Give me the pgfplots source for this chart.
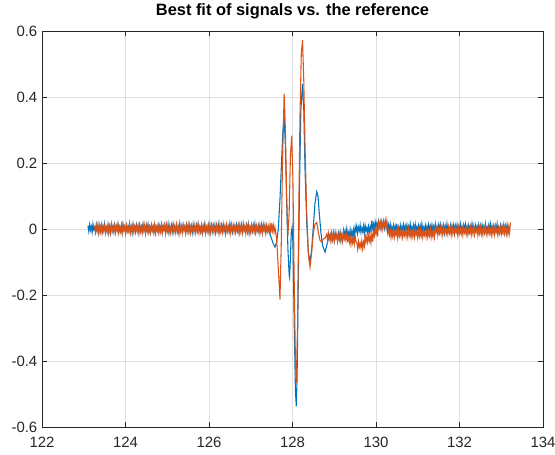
\documentclass[border=0pt]{standalone}
\usepackage{fontspec}
\setmainfont{Liberation Sans}
\usepackage{pgfplots}
\pgfplotsset{compat=1.18}

\definecolor{mblue}{RGB}{0,114,189}
\definecolor{morange}{RGB}{217,83,25}
\definecolor{axisgray}{RGB}{38,38,38}
\definecolor{gridgray}{RGB}{223,223,223}

\begin{document}
\begin{tikzpicture}
\begin{axis}[
    name=ax,
    scale only axis,
    width=375.75pt, height=297pt,
    xmin=122, xmax=134,
    ymin=-0.6, ymax=0.6,
    xtick={122,124,126,128,130,132,134},
    xticklabels={122,124,126,128,130,132,134},
    ytick={-0.6,-0.4,-0.2,0,0.2,0.4,0.6},
    yticklabels={-0.6,-0.4,-0.2,0,0.2,0.4,0.6},
    grid=major,
    major grid style={color=gridgray, line width=0.5pt},
    axis line style={color=axisgray, line width=0.6pt},
    tick style={color=axisgray, line width=0.6pt},
    major tick length=3.75pt,
    tick align=inside,
    ticklabel style={font=\fontsize{11.2}{13}\selectfont, text=axisgray},
    xticklabel style={yshift=-4pt},
    title={Best fit of signals vs. the reference},
    title style={font=\fontsize{12.3}{14}\selectfont\bfseries, at={(0.5,1)}, anchor=base, yshift=5.8pt},
]

% blue signal
\addplot[color=mblue, line width=0.8pt] coordinates {
(123.10,0.010)(123.12,-0.007)(123.14,0.013)(123.16,-0.004)(123.18,0.008)(123.20,-0.010)(123.22,0.015)(123.24,-0.002)(123.26,0.006)(123.28,-0.008)(123.30,0.012)(123.32,-0.005)
(123.34,0.014)(123.36,-0.011)(123.38,0.007)(123.40,-0.003)(123.42,0.011)(123.44,-0.009)(123.46,0.009)(123.48,-0.006)(123.50,0.016)(123.52,-0.004)(123.54,0.005)(123.56,-0.008)
(123.58,0.012)(123.60,-0.012)(123.62,0.008)(123.64,-0.005)(123.66,0.013)(123.68,-0.007)(123.70,0.010)(123.72,-0.004)(123.74,0.013)(123.76,-0.010)(123.78,0.008)(123.80,-0.002)
(123.82,0.015)(123.84,-0.008)(123.86,0.006)(123.88,-0.005)(123.90,0.012)(123.92,-0.011)(123.94,0.014)(123.96,-0.003)(123.98,0.007)(124.00,-0.009)(124.02,0.011)(124.04,-0.006)
(124.06,0.009)(124.08,-0.004)(124.10,0.016)(124.12,-0.008)(124.14,0.005)(124.16,-0.012)(124.18,0.012)(124.20,-0.005)(124.22,0.008)(124.24,-0.007)(124.26,0.013)(124.28,-0.004)
(124.30,0.010)(124.32,-0.010)(124.34,0.013)(124.36,-0.002)(124.38,0.008)(124.40,-0.008)(124.42,0.015)(124.44,-0.005)(124.46,0.006)(124.48,-0.011)(124.50,0.012)(124.52,-0.003)
(124.54,0.014)(124.56,-0.009)(124.58,0.007)(124.60,-0.006)(124.62,0.011)(124.64,-0.004)(124.66,0.009)(124.68,-0.008)(124.70,0.016)(124.72,-0.012)(124.74,0.005)(124.76,-0.005)
(124.78,0.012)(124.80,-0.007)(124.82,0.008)(124.84,-0.004)(124.86,0.013)(124.88,-0.010)(124.90,0.010)(124.92,-0.002)(124.94,0.013)(124.96,-0.008)(124.98,0.008)(125.00,-0.005)
(125.02,0.015)(125.04,-0.011)(125.06,0.006)(125.08,-0.003)(125.10,0.012)(125.12,-0.009)(125.14,0.014)(125.16,-0.006)(125.18,0.007)(125.20,-0.004)(125.22,0.011)(125.24,-0.008)
(125.26,0.009)(125.28,-0.012)(125.30,0.016)(125.32,-0.005)(125.34,0.005)(125.36,-0.007)(125.38,0.012)(125.40,-0.004)(125.42,0.008)(125.44,-0.010)(125.46,0.013)(125.48,-0.002)
(125.50,0.010)(125.52,-0.008)(125.54,0.013)(125.56,-0.005)(125.58,0.008)(125.60,-0.011)(125.62,0.015)(125.64,-0.003)(125.66,0.006)(125.68,-0.009)(125.70,0.012)(125.72,-0.006)
(125.74,0.014)(125.76,-0.004)(125.78,0.007)(125.80,-0.008)(125.82,0.011)(125.84,-0.012)(125.86,0.009)(125.88,-0.005)(125.90,0.016)(125.92,-0.007)(125.94,0.005)(125.96,-0.004)
(125.98,0.012)(126.00,-0.010)(126.02,0.008)(126.04,-0.002)(126.06,0.013)(126.08,-0.008)(126.10,0.010)(126.12,-0.005)(126.14,0.013)(126.16,-0.011)(126.18,0.008)(126.20,-0.003)
(126.22,0.015)(126.24,-0.009)(126.26,0.006)(126.28,-0.006)(126.30,0.012)(126.32,-0.004)(126.34,0.014)(126.36,-0.008)(126.38,0.007)(126.40,-0.012)(126.42,0.011)(126.44,-0.005)
(126.46,0.009)(126.48,-0.007)(126.50,0.016)(126.52,-0.004)(126.54,0.005)(126.56,-0.010)(126.58,0.012)(126.60,-0.002)(126.62,0.008)(126.64,-0.008)(126.66,0.013)(126.68,-0.005)
(126.70,0.010)(126.72,-0.011)(126.74,0.013)(126.76,-0.003)(126.78,0.008)(126.80,-0.009)(126.82,0.015)(126.84,-0.006)(126.86,0.006)(126.88,-0.004)(126.90,0.012)(126.92,-0.008)
(126.94,0.014)(126.96,-0.012)(126.98,0.007)(127.00,-0.005)(127.02,0.011)(127.04,-0.007)(127.06,0.009)(127.08,-0.004)(127.10,0.016)(127.12,-0.010)(127.14,0.005)(127.16,-0.002)
(127.18,0.012)(127.20,-0.008)(127.22,0.008)(127.24,-0.005)(127.26,0.013)(127.28,-0.011)(127.30,0.010)(127.32,-0.003)(127.34,0.013)(127.36,-0.009)(127.38,0.008)(127.40,-0.006)
(127.42,0.000)(127.46,-0.015)(127.50,-0.030)(127.54,-0.045)(127.58,-0.055)(127.62,-0.040)(127.66,0.000)(127.70,0.090)(127.74,0.210)(127.77,0.300)(127.80,0.334)
(127.83,0.250)(127.86,0.080)(127.89,-0.060)(127.92,-0.140)(127.93,-0.147)(127.95,-0.090)(127.97,-0.010)(127.99,0.005)(128.01,-0.040)(128.04,-0.280)(128.07,-0.490)
(128.09,-0.537)(128.11,-0.450)(128.14,-0.150)(128.17,0.150)(128.20,0.360)(128.24,0.440)(128.27,0.360)(128.30,0.180)(128.34,0.020)(128.38,-0.070)(128.42,-0.100)
(128.46,-0.060)(128.50,0.010)(128.54,0.080)(128.58,0.113)(128.61,0.100)(128.64,0.050)(128.68,-0.010)(128.72,-0.050)(128.78,-0.070)(128.82,-0.050)(128.86,-0.030)
(128.90,-0.015)(128.92,-0.032)(128.94,-0.012)(128.96,-0.029)(128.98,-0.017)(129.00,-0.035)(129.02,-0.010)(129.04,-0.027)(129.06,-0.019)(129.08,-0.033)(129.10,-0.013)(129.12,-0.030)
(129.14,-0.011)(129.16,-0.036)(129.18,-0.018)(129.20,-0.028)(129.22,-0.004)(129.24,-0.024)(129.26,-0.006)(129.28,-0.021)(129.30,0.001)(129.32,-0.019)(129.34,-0.010)(129.36,-0.023)
(129.38,-0.003)(129.40,-0.027)(129.42,-0.007)(129.44,-0.020)(129.46,-0.002)(129.48,-0.022)(129.50,0.007)(129.52,-0.007)(129.54,0.010)(129.56,-0.013)(129.58,0.005)(129.60,-0.005)
(129.62,0.012)(129.64,-0.011)(129.66,0.003)(129.68,-0.008)(129.70,0.009)(129.72,-0.014)(129.74,0.011)(129.76,-0.006)(129.78,0.004)(129.80,-0.012)(129.82,0.008)(129.84,-0.009)
(129.86,0.006)(129.88,-0.007)(129.90,0.026)(129.92,0.002)(129.94,0.015)(129.96,-0.002)(129.98,0.022)(130.00,0.005)(130.02,0.018)(130.04,0.003)(130.06,0.023)(130.08,0.006)
(130.10,0.020)(130.12,0.000)(130.14,0.023)(130.16,0.008)(130.18,0.018)(130.20,0.002)(130.22,0.025)(130.24,0.005)(130.26,0.006)(130.28,-0.011)(130.30,0.012)(130.32,-0.003)
(130.34,0.014)(130.36,-0.009)(130.38,0.007)(130.40,-0.006)(130.42,0.011)(130.44,-0.004)(130.46,0.009)(130.48,-0.008)(130.50,0.016)(130.52,-0.012)(130.54,0.005)(130.56,-0.005)
(130.58,0.012)(130.60,-0.007)(130.62,0.008)(130.64,-0.004)(130.66,0.013)(130.68,-0.010)(130.70,0.010)(130.72,-0.002)(130.74,0.013)(130.76,-0.008)(130.78,0.008)(130.80,-0.005)
(130.82,0.015)(130.84,-0.011)(130.86,0.006)(130.88,-0.003)(130.90,0.012)(130.92,-0.009)(130.94,0.014)(130.96,-0.006)(130.98,0.007)(131.00,-0.004)(131.02,0.011)(131.04,-0.008)
(131.06,0.009)(131.08,-0.012)(131.10,0.016)(131.12,-0.005)(131.14,0.005)(131.16,-0.007)(131.18,0.012)(131.20,-0.004)(131.22,0.008)(131.24,-0.010)(131.26,0.013)(131.28,-0.002)
(131.30,0.010)(131.32,-0.008)(131.34,0.013)(131.36,-0.005)(131.38,0.008)(131.40,-0.011)(131.42,0.015)(131.44,-0.003)(131.46,0.006)(131.48,-0.009)(131.50,0.012)(131.52,-0.006)
(131.54,0.014)(131.56,-0.004)(131.58,0.007)(131.60,-0.008)(131.62,0.011)(131.64,-0.012)(131.66,0.009)(131.68,-0.005)(131.70,0.016)(131.72,-0.007)(131.74,0.005)(131.76,-0.004)
(131.78,0.012)(131.80,-0.010)(131.82,0.008)(131.84,-0.002)(131.86,0.013)(131.88,-0.008)(131.90,0.010)(131.92,-0.005)(131.94,0.013)(131.96,-0.011)(131.98,0.008)(132.00,-0.003)
(132.02,0.015)(132.04,-0.009)(132.06,0.006)(132.08,-0.006)(132.10,0.012)(132.12,-0.004)(132.14,0.014)(132.16,-0.008)(132.18,0.007)(132.20,-0.012)(132.22,0.011)(132.24,-0.005)
(132.26,0.009)(132.28,-0.007)(132.30,0.016)(132.32,-0.004)(132.34,0.005)(132.36,-0.010)(132.38,0.012)(132.40,-0.002)(132.42,0.008)(132.44,-0.008)(132.46,0.013)(132.48,-0.005)
(132.50,0.010)(132.52,-0.011)(132.54,0.013)(132.56,-0.003)(132.58,0.008)(132.60,-0.009)(132.62,0.015)(132.64,-0.006)(132.66,0.006)(132.68,-0.004)(132.70,0.012)(132.72,-0.008)
(132.74,0.014)(132.76,-0.012)(132.78,0.007)(132.80,-0.005)(132.82,0.011)(132.84,-0.007)(132.86,0.009)(132.88,-0.004)(132.90,0.016)(132.92,-0.010)(132.94,0.005)(132.96,-0.002)
(132.98,0.012)(133.00,-0.008)(133.02,0.008)(133.04,-0.005)(133.06,0.013)(133.08,-0.011)(133.10,0.010)(133.12,-0.003)(133.14,0.013)(133.16,-0.009)(133.18,0.008)
};

% orange signal
\addplot[color=morange, line width=0.8pt] coordinates {
(123.26,0.009)(123.28,-0.010)(123.30,0.012)(123.32,-0.006)(123.34,0.006)(123.36,-0.012)(123.38,0.011)(123.40,-0.008)(123.42,0.013)(123.44,-0.011)(123.46,0.007)(123.48,-0.004)
(123.50,0.010)(123.52,-0.013)(123.54,0.005)(123.56,-0.007)(123.58,0.012)(123.60,-0.009)(123.62,0.008)(123.64,-0.012)(123.66,0.014)(123.68,-0.005)(123.70,0.006)(123.72,-0.010)
(123.74,0.010)(123.76,-0.010)(123.78,0.009)(123.80,-0.006)(123.82,0.012)(123.84,-0.012)(123.86,0.006)(123.88,-0.008)(123.90,0.011)(123.92,-0.011)(123.94,0.013)(123.96,-0.004)
(123.98,0.007)(124.00,-0.013)(124.02,0.010)(124.04,-0.007)(124.06,0.005)(124.08,-0.009)(124.10,0.012)(124.12,-0.012)(124.14,0.008)(124.16,-0.005)(124.18,0.014)(124.20,-0.010)
(124.22,0.006)(124.24,-0.010)(124.26,0.010)(124.28,-0.006)(124.30,0.009)(124.32,-0.012)(124.34,0.012)(124.36,-0.008)(124.38,0.006)(124.40,-0.011)(124.42,0.011)(124.44,-0.004)
(124.46,0.013)(124.48,-0.013)(124.50,0.007)(124.52,-0.007)(124.54,0.010)(124.56,-0.009)(124.58,0.005)(124.60,-0.012)(124.62,0.012)(124.64,-0.005)(124.66,0.008)(124.68,-0.010)
(124.70,0.014)(124.72,-0.010)(124.74,0.006)(124.76,-0.006)(124.78,0.010)(124.80,-0.012)(124.82,0.009)(124.84,-0.008)(124.86,0.012)(124.88,-0.011)(124.90,0.006)(124.92,-0.004)
(124.94,0.011)(124.96,-0.013)(124.98,0.013)(125.00,-0.007)(125.02,0.007)(125.04,-0.009)(125.06,0.010)(125.08,-0.012)(125.10,0.005)(125.12,-0.005)(125.14,0.012)(125.16,-0.010)
(125.18,0.008)(125.20,-0.010)(125.22,0.014)(125.24,-0.006)(125.26,0.006)(125.28,-0.012)(125.30,0.010)(125.32,-0.008)(125.34,0.009)(125.36,-0.011)(125.38,0.012)(125.40,-0.004)
(125.42,0.006)(125.44,-0.013)(125.46,0.011)(125.48,-0.007)(125.50,0.013)(125.52,-0.009)(125.54,0.007)(125.56,-0.012)(125.58,0.010)(125.60,-0.005)(125.62,0.005)(125.64,-0.010)
(125.66,0.012)(125.68,-0.010)(125.70,0.008)(125.72,-0.006)(125.74,0.014)(125.76,-0.012)(125.78,0.006)(125.80,-0.008)(125.82,0.010)(125.84,-0.011)(125.86,0.009)(125.88,-0.004)
(125.90,0.012)(125.92,-0.013)(125.94,0.006)(125.96,-0.007)(125.98,0.011)(126.00,-0.009)(126.02,0.013)(126.04,-0.012)(126.06,0.007)(126.08,-0.005)(126.10,0.010)(126.12,-0.010)
(126.14,0.005)(126.16,-0.010)(126.18,0.012)(126.20,-0.006)(126.22,0.008)(126.24,-0.012)(126.26,0.014)(126.28,-0.008)(126.30,0.006)(126.32,-0.011)(126.34,0.010)(126.36,-0.004)
(126.38,0.009)(126.40,-0.013)(126.42,0.012)(126.44,-0.007)(126.46,0.006)(126.48,-0.009)(126.50,0.011)(126.52,-0.012)(126.54,0.013)(126.56,-0.005)(126.58,0.007)(126.60,-0.010)
(126.62,0.010)(126.64,-0.010)(126.66,0.005)(126.68,-0.006)(126.70,0.012)(126.72,-0.012)(126.74,0.008)(126.76,-0.008)(126.78,0.014)(126.80,-0.011)(126.82,0.006)(126.84,-0.004)
(126.86,0.010)(126.88,-0.013)(126.90,0.009)(126.92,-0.007)(126.94,0.012)(126.96,-0.009)(126.98,0.006)(127.00,-0.012)(127.02,0.011)(127.04,-0.005)(127.06,0.013)(127.08,-0.010)
(127.10,0.007)(127.12,-0.010)(127.14,0.010)(127.16,-0.006)(127.18,0.005)(127.20,-0.012)(127.22,0.012)(127.24,-0.008)(127.26,0.008)(127.28,-0.011)(127.30,0.014)(127.32,-0.004)
(127.34,0.006)(127.36,-0.013)(127.38,0.010)(127.40,-0.007)(127.42,0.009)(127.44,-0.009)(127.46,0.012)(127.48,-0.012)(127.50,0.018)(127.52,-0.005)(127.54,0.011)(127.56,-0.010)
(127.58,0.005)(127.62,-0.030)(127.66,-0.120)(127.70,-0.213)(127.73,-0.050)(127.76,0.200)(127.80,0.410)(127.83,0.300)(127.86,0.100)(127.89,-0.020)(127.92,0.050)
(127.95,0.220)(127.98,0.283)(128.01,0.150)(128.04,-0.150)(128.07,-0.400)(128.09,-0.466)(128.12,-0.300)(128.15,0.050)(128.18,0.350)(128.21,0.530)(128.24,0.572)
(128.27,0.450)(128.30,0.250)(128.34,0.050)(128.38,-0.080)(128.42,-0.116)(128.46,-0.070)(128.50,-0.010)(128.54,0.015)(128.58,0.020)(128.62,-0.010)(128.66,-0.035)
(128.70,-0.040)(128.74,-0.030)(128.78,-0.028)
(128.82,-0.016)(128.84,-0.035)(128.86,-0.013)(128.88,-0.031)(128.90,-0.019)(128.92,-0.037)(128.94,-0.014)(128.96,-0.033)(128.98,-0.012)(129.00,-0.036)(129.02,-0.018)(129.04,-0.029)
(129.06,-0.015)(129.08,-0.038)(129.10,-0.020)(129.12,-0.032)(129.14,-0.013)(129.16,-0.034)(129.18,-0.017)(129.20,-0.037)(129.22,-0.011)(129.24,-0.030)(129.26,-0.019)(129.28,-0.035)
(129.30,-0.015)(129.32,-0.035)(129.34,-0.026)(129.36,-0.041)(129.38,-0.023)(129.40,-0.047)(129.42,-0.029)(129.44,-0.043)(129.46,-0.024)(129.48,-0.046)(129.50,-0.022)(129.52,-0.039)
(129.54,-0.041)(129.56,-0.061)(129.58,-0.038)(129.60,-0.055)(129.62,-0.043)(129.64,-0.057)(129.66,-0.036)(129.68,-0.060)(129.70,-0.040)(129.72,-0.053)(129.74,-0.016)(129.76,-0.040)
(129.78,-0.024)(129.80,-0.040)(129.82,-0.020)(129.84,-0.036)(129.86,-0.021)(129.88,-0.042)(129.90,-0.018)(129.92,-0.038)(129.94,-0.004)(129.96,-0.021)(129.98,0.001)(130.00,-0.014)
(130.02,0.003)(130.04,-0.023)(130.06,0.019)(130.08,0.005)(130.10,0.022)(130.12,0.003)(130.14,0.017)(130.16,0.000)(130.18,0.024)(130.20,0.007)(130.22,0.020)(130.24,0.002)
(130.26,0.026)(130.28,0.002)(130.30,-0.008)(130.32,-0.020)(130.34,-0.004)(130.36,-0.026)(130.38,-0.005)(130.40,-0.022)(130.42,-0.002)(130.44,-0.025)(130.46,-0.008)(130.48,-0.018)
(130.50,-0.003)(130.52,-0.027)(130.54,-0.001)(130.56,-0.021)(130.58,-0.007)(130.60,-0.023)(130.62,-0.004)(130.64,-0.026)(130.66,-0.009)(130.68,-0.019)(130.70,-0.002)(130.72,-0.024)
(130.74,-0.006)(130.76,-0.024)(130.78,0.000)(130.80,-0.020)(130.82,-0.008)(130.84,-0.026)(130.86,-0.004)(130.88,-0.022)(130.90,-0.005)(130.92,-0.025)(130.94,-0.002)(130.96,-0.018)
(130.98,-0.008)(131.00,-0.027)(131.02,-0.003)(131.04,-0.021)(131.06,-0.001)(131.08,-0.023)(131.10,-0.007)(131.12,-0.026)(131.14,-0.004)(131.16,-0.019)(131.18,-0.009)(131.20,-0.024)
(131.22,-0.002)(131.24,-0.024)(131.26,-0.006)(131.28,-0.020)(131.30,0.000)(131.32,-0.026)(131.34,-0.008)(131.36,-0.022)(131.38,-0.004)(131.40,-0.025)(131.42,0.003)(131.44,-0.010)
(131.46,0.006)(131.48,-0.019)(131.50,0.000)(131.52,-0.013)(131.54,0.005)(131.56,-0.015)(131.58,0.007)(131.60,-0.018)(131.62,0.001)(131.64,-0.011)(131.66,0.004)(131.68,-0.016)
(131.70,-0.001)(131.72,-0.016)(131.74,0.006)(131.76,-0.012)(131.78,0.002)(131.80,-0.018)(131.82,0.008)(131.84,-0.014)(131.86,0.000)(131.88,-0.017)(131.90,0.004)(131.92,-0.010)
(131.94,0.003)(131.96,-0.019)(131.98,0.006)(132.00,-0.013)(132.02,0.000)(132.04,-0.015)(132.06,0.005)(132.08,-0.018)(132.10,0.007)(132.12,-0.011)(132.14,0.001)(132.16,-0.016)
(132.18,0.004)(132.20,-0.016)(132.22,-0.001)(132.24,-0.012)(132.26,0.006)(132.28,-0.018)(132.30,0.002)(132.32,-0.014)(132.34,0.008)(132.36,-0.017)(132.38,0.000)(132.40,-0.010)
(132.42,0.004)(132.44,-0.019)(132.46,0.003)(132.48,-0.013)(132.50,0.006)(132.52,-0.015)(132.54,0.000)(132.56,-0.018)(132.58,0.005)(132.60,-0.011)(132.62,0.007)(132.64,-0.016)
(132.66,0.001)(132.68,-0.016)(132.70,0.004)(132.72,-0.012)(132.74,-0.001)(132.76,-0.018)(132.78,0.006)(132.80,-0.014)(132.82,0.002)(132.84,-0.017)(132.86,0.008)(132.88,-0.010)
(132.90,0.000)(132.92,-0.019)(132.94,0.004)(132.96,-0.013)(132.98,0.003)(133.00,-0.015)(133.02,0.006)(133.04,-0.018)(133.06,0.012)(133.08,-0.011)(133.10,0.005)(133.12,-0.016)
(133.14,0.003)(133.16,-0.016)(133.18,0.006)(133.20,-0.012)(133.22,0.020)
};

\end{axis}
\pgfresetboundingbox
\path ([shift={(-31.5pt,-21pt)}]ax.south west) rectangle ([shift={(9pt,23.25pt)}]ax.north east);
\end{tikzpicture}
\end{document}
